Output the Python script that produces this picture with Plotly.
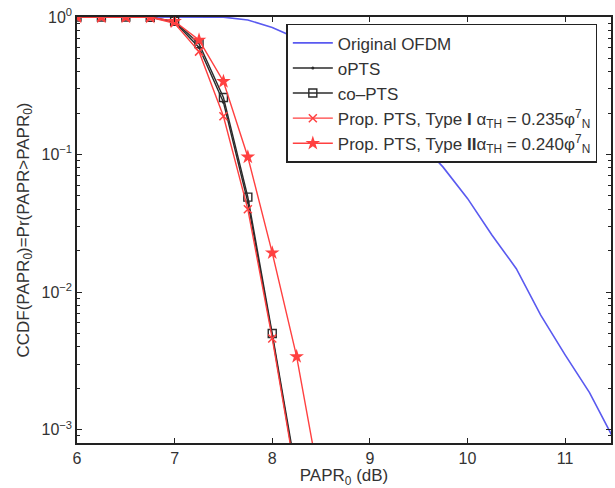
import plotly.graph_objects as go

# ---- data ----
papr_markers = [6.0, 6.25, 6.5, 6.75, 7.0, 7.25, 7.5, 7.75, 8.0, 8.25, 8.5]

orig_x = [6.0, 6.5, 7.0, 7.5, 7.75, 8.0, 8.25, 8.5, 8.75, 9.0, 9.25, 9.5, 9.75,
          10.0, 10.25, 10.5, 10.75, 11.0, 11.25, 11.5]
orig_ccdf = [1.0, 1.0, 1.0, 0.998, 0.95, 0.84, 0.70, 0.54, 0.39, 0.275, 0.19,
             0.126, 0.081, 0.048, 0.026, 0.0148, 0.0068, 0.0035, 0.00186, 0.00085]

opts_ccdf = [1.0, 1.0, 1.0, 0.995, 0.92, 0.60, 0.24, 0.045, 0.0048, 0.00044]
copts_ccdf = [1.0, 1.0, 1.0, 0.995, 0.93, 0.64, 0.26, 0.049, 0.0050, 0.00047]
type1_ccdf = [1.0, 1.0, 1.0, 0.995, 0.90, 0.56, 0.19, 0.040, 0.0046, 0.00042]
type2_ccdf = [1.0, 1.0, 1.0, 0.997, 0.93, 0.68, 0.34, 0.096, 0.0193, 0.0034, 0.00036]

legend_names = [
    "Original OFDM",
    "oPTS",
    "co\u2013PTS",
    "Prop. PTS, Type <b>I</b> \u03b1<sub>TH</sub> = 0.235\u03c6<sup>7</sup><sub>N</sub>",
    "Prop. PTS, Type <b>II</b>\u03b1<sub>TH</sub> = 0.240\u03c6<sup>7</sup><sub>N</sub>",
]

x_ticks = [6, 7, 8, 9, 10, 11]
y_ticks = [1e-3, 1e-2, 1e-1, 1]
y_ticktext = ["10<sup>\u22123</sup>", "10<sup>\u22122</sup>", "10<sup>\u22121</sup>", "10<sup>0</sup>"]

BLUE = "#5a5af0"
RED = "#ff4040"
BLACK = "#2b2b2b"

fig = go.Figure()
fig.add_trace(go.Scatter(x=orig_x, y=orig_ccdf, mode="lines", name=legend_names[0],
                         line=dict(color=BLUE, width=1.6)))
fig.add_trace(go.Scatter(x=papr_markers[:len(opts_ccdf)], y=opts_ccdf, mode="lines+markers",
                         name=legend_names[1], line=dict(color=BLACK, width=1.4),
                         marker=dict(symbol="circle", size=3, color=BLACK)))
fig.add_trace(go.Scatter(x=papr_markers[:len(copts_ccdf)], y=copts_ccdf, mode="lines+markers",
                         name=legend_names[2], line=dict(color=BLACK, width=1.4),
                         marker=dict(symbol="square-open", size=8, color=BLACK,
                                     line=dict(width=1.4))))
fig.add_trace(go.Scatter(x=papr_markers[:len(type1_ccdf)], y=type1_ccdf, mode="lines+markers",
                         name=legend_names[3], line=dict(color=RED, width=1.4),
                         marker=dict(symbol="x-thin-open", size=8, color=RED,
                                     line=dict(width=1.5, color=RED))))
fig.add_trace(go.Scatter(x=papr_markers[:len(type2_ccdf)], y=type2_ccdf, mode="lines+markers",
                         name=legend_names[4], line=dict(color=RED, width=1.4),
                         marker=dict(symbol="star", size=11, color=RED)))

axis_common = dict(showline=True, linecolor="#222", linewidth=1.5, mirror="ticks",
                   ticks="inside", ticklen=5, tickcolor="#222", showgrid=False,
                   zeroline=False, tickfont=dict(size=16, color="#333"))

fig.update_xaxes(range=[6, 11.47], tickvals=x_ticks,
                 title=dict(text="PAPR<sub>0</sub> (dB)", font=dict(size=17, color="#333"),
                            standoff=2),
                 **axis_common)
fig.update_yaxes(type="log", range=[-3.097, 0], tickvals=y_ticks, ticktext=y_ticktext,
                 title=dict(text="CCDF(PAPR<sub>0</sub>)=Pr(PAPR>PAPR<sub>0</sub>)",
                            font=dict(size=17, color="#333"), standoff=8),
                 minor=dict(ticks="inside", ticklen=3, tickcolor="#222",
                            tickvals=[m * 10 ** e for e in (-4, -3, -2, -1) for m in range(2, 10)]),
                 **axis_common)

fig.update_layout(
    width=615, height=488,
    margin=dict(l=77, r=2, t=17, b=45),
    paper_bgcolor="white", plot_bgcolor="white",
    font=dict(family="Liberation Sans, Arial, sans-serif", color="#333"),
    legend=dict(x=0.392, y=0.984, xanchor="left", yanchor="top",
                bgcolor="white", bordercolor="#222", borderwidth=1.5,
                font=dict(size=17, color="#333"), tracegroupgap=0, itemwidth=40),
    showlegend=True,
)

fig.write_html("out.html")
